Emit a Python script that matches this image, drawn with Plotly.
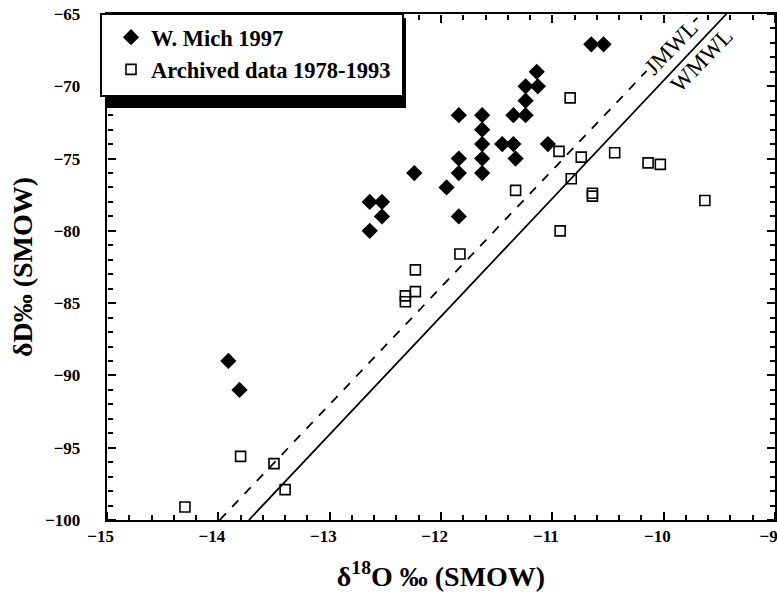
import numpy as np
import plotly.graph_objects as go

# W. Mich 1997 (filled diamonds)
mich_d18o = [-13.91, -13.81, -12.64, -12.53, -12.53, -12.64, -12.24, -11.95,
             -11.84, -11.84, -11.84, -11.84, -11.63, -11.63, -11.63, -11.63,
             -11.63, -11.45, -11.35, -11.33, -11.35, -11.24, -11.24, -11.24,
             -11.13, -11.14, -11.04, -10.65, -10.54]
mich_dD = [-89, -91, -78, -78, -79, -80, -76, -77,
           -72, -75, -76, -79, -72, -73, -74, -75,
           -76, -74, -74, -75, -72, -72, -71, -70,
           -70, -69, -74, -67.1, -67.1]

# Archived data 1978-1993 (open squares)
arch_d18o = [-10.84, -10.94, -10.74, -10.44, -10.14, -10.03, -10.83, -10.64,
             -10.64, -9.63, -10.93, -11.33, -11.83, -12.23, -12.23, -12.32,
             -12.32, -14.30, -13.80, -13.50, -13.40]
arch_dD = [-70.8, -74.5, -74.9, -74.6, -75.3, -75.4, -76.4, -77.4,
           -77.6, -77.9, -80.0, -77.2, -81.6, -82.7, -84.2, -84.5,
           -84.9, -99.1, -95.6, -96.1, -97.9]

# meteoric water lines: slope, intercept
jmwl = (8.1, 13.3)
wmwl = (8.16, 12.0)

x_range = [-15, -9]
y_range = [-100, -65]

serif = "Liberation Serif"

fig = go.Figure()

for (slope, icpt), dash in [(jmwl, "dash"), (wmwl, "solid")]:
    yy = np.array(y_range, dtype=float)
    xx = (yy - icpt) / slope
    fig.add_trace(go.Scatter(x=xx, y=yy, mode="lines", showlegend=False,
                             line=dict(color="black", width=1.8, dash=dash),
                             hoverinfo="skip"))

fig.add_trace(go.Scatter(x=mich_d18o, y=mich_dD, mode="markers", name="W. Mich 1997",
                         marker=dict(symbol="diamond", size=12.5, color="black")))
fig.add_trace(go.Scatter(x=arch_d18o, y=arch_dD, mode="markers",
                         name="Archived data 1978-1993",
                         marker=dict(symbol="square-open", size=10, color="black",
                                     line=dict(width=1.6, color="black"))))

# empty traces so the tick-only overlay axes get drawn
for xa, ya in [("x2", "y2"), ("x3", "y3")]:
    fig.add_trace(go.Scatter(x=[], y=[], xaxis=xa, yaxis=ya, showlegend=False,
                             hoverinfo="skip"))

fig.add_annotation(x=-9.93, y=-67.35, text="JMWL", showarrow=False, textangle=-46,
                   font=dict(family=serif, size=23, color="black"), bgcolor="white")
fig.add_annotation(x=-9.66, y=-68.22, text="WMWL", showarrow=False, textangle=-46,
                   font=dict(family=serif, size=23, color="black"))

# legend frame and drop shadow
fig.add_shape(type="rect", xref="paper", yref="paper",
              x0=-0.003, x1=0.4476, y0=0.8142, y1=0.84, opacity=1,
              fillcolor="black", line=dict(width=0), layer="above")
fig.add_shape(type="rect", xref="paper", yref="paper",
              x0=0.44, x1=0.4476, y0=0.8142, y1=0.992, opacity=1,
              fillcolor="black", line=dict(width=0), layer="above")
fig.add_shape(type="rect", xref="paper", yref="paper",
              x0=-0.009, x1=0.4431, y0=0.8379, y1=1.0, opacity=1,
              fillcolor="white", line=dict(width=2, color="black"), layer="above")

sp = "\u00a0"
tick_font = dict(family=serif, size=17, color="black", weight="bold")

# main axes: frame, labels and titles (inside ticks come from the overlays)
fig.update_layout(
    xaxis=dict(range=x_range, tick0=-15, dtick=1, ticksuffix=sp * 3,
               showgrid=False, zeroline=False, showline=True, linewidth=2,
               linecolor="black", mirror=True, ticks="", automargin=False,
               ticklabeloverflow="allow", tickfont=tick_font,
               title=dict(text="δ<sup>18</sup>O ‰ (SMOW)", standoff=21,
                          font=dict(family=serif, size=28, color="black",
                                    weight="bold"))),
    yaxis=dict(range=y_range, tick0=-100, dtick=5, ticksuffix=sp * 5,
               showgrid=False, zeroline=False, showline=True, linewidth=2,
               linecolor="black", mirror=True, ticks="", automargin=False,
               ticklabeloverflow="allow", tickfont=tick_font,
               title=dict(text="δD‰ (SMOW)", standoff=4,
                          font=dict(family=serif, size=28, color="black",
                                    weight="bold"))),
)

# outside ticks on axes placed at the far side point into the plot
x_ticks = dict(range=x_range, tick0=-15, dtick=1, overlaying="x", anchor="free",
               showgrid=False, zeroline=False, showline=False, showticklabels=False,
               ticks="outside", ticklen=8, tickwidth=2, tickcolor="black",
               automargin=False,
               minor=dict(dtick=0.2, ticks="outside", ticklen=5, tickwidth=1.5,
                          tickcolor="black"))
y_ticks = dict(range=y_range, tick0=-100, dtick=5, overlaying="y", anchor="free",
               showgrid=False, zeroline=False, showline=False, showticklabels=False,
               ticks="outside", ticklen=8, tickwidth=2, tickcolor="black",
               automargin=False,
               minor=dict(dtick=1, ticks="outside", ticklen=5, tickwidth=1.5,
                          tickcolor="black"))

fig.update_layout(
    xaxis2=dict(side="top", position=0, **x_ticks),
    xaxis3=dict(side="bottom", position=1, **x_ticks),
    yaxis2=dict(side="right", position=0, **y_ticks),
    yaxis3=dict(side="left", position=1, **y_ticks),
    width=777, height=598,
    margin=dict(l=107, r=2, t=14, b=78),
    plot_bgcolor="white", paper_bgcolor="white",
    legend=dict(x=0.006, y=0.996, xanchor="left", yanchor="top",
                borderwidth=0, bgcolor="rgba(0,0,0,0)",
                font=dict(family=serif, size=22.5, color="black", weight="bold")),
)

# drop the default 8px body margin so the figure fills the window
fig.write_html("out.html", config={"displayModeBar": False},
               post_script="document.body.style.margin = '0px';")
